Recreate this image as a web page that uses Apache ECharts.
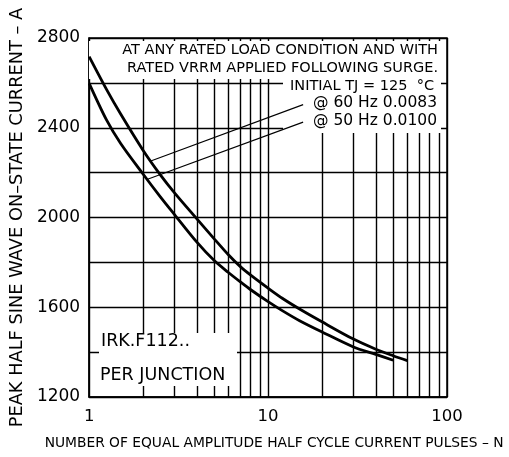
<!DOCTYPE html>
<html>
<head>
<meta charset="utf-8">
<script src="https://cdn.jsdelivr.net/npm/echarts@6/dist/echarts.min.js"></script>
<style>
  html, body { margin: 0; padding: 0; background: #fff; }
  #chart { width: 509px; height: 457px; }
</style>
</head>
<body>
<div id="chart"></div>
<script>
// Surge current vs. number of half-cycle pulses
const pulses60 = [1, 1.25, 1.5, 2, 2.5, 3, 4, 5, 6, 7, 8, 10, 12, 15, 20, 30, 40, 50, 60];
const current60 = [2717, 2571, 2461, 2300, 2190, 2110, 1994, 1905, 1834, 1781, 1743, 1685, 1640, 1592, 1535, 1458, 1413, 1384, 1362];
const pulses50 = [1, 1.25, 1.5, 2, 2.5, 3, 4, 5, 6, 7, 8, 10, 12, 15, 20, 30, 40, 50];
const current50 = [2598, 2435, 2330, 2194, 2092, 2013, 1890, 1808, 1755, 1713, 1678, 1625, 1585, 1540, 1490, 1423, 1390, 1364];

// decade sub-divisions of the log axis
const minorGridX = [2, 3, 4, 5, 6, 7, 8, 9, 20, 30, 40, 50, 60, 70, 80, 90];
const yTickLabels = [1200, 1600, 2000, 2400, 2800];

// leader lines from the notes to the curves
const leader60 = [[15.7, 2503], [2.21, 2252]];
const leader50 = [[15.7, 2425], [2.12, 2170]];

const noteLines = [
  'AT ANY RATED LOAD CONDITION AND WITH',
  'RATED VRRM APPLIED FOLLOWING SURGE.',
  'INITIAL TJ = 125  °C',
  '@ 60 Hz 0.0083',
  '@ 50 Hz 0.0100'
];
const partLines = ['IRK.F112..', 'PER JUNCTION'];

const FONT = '"DejaVu Sans", "Liberation Sans", sans-serif';
const INK = '#000';

const zip = (xs, ys) => xs.map((x, i) => [x, ys[i]]);

const chart = echarts.init(document.getElementById('chart'), null, { renderer: 'canvas' });

const textEl = (txt, x, y, size, align) => ({
  type: 'text', z: 10, x: x, y: y,
  style: { text: txt, fill: INK, font: size + 'px ' + FONT, textAlign: align || 'right', textVerticalAlign: 'middle' }
});
// white panels that sit behind the notes and hide the grid there
const whiteBox = (x, y, w, h) => ({
  type: 'rect', z: 3, shape: { x: x, y: y, width: w, height: h },
  style: { fill: '#fff' }, silent: true
});

chart.setOption({
  animation: false,
  backgroundColor: '#fff',
  grid: { left: 86, right: 62, top: 38, bottom: 60, show: true, borderColor: INK, borderWidth: 1.5, backgroundColor: '#fff' },
  xAxis: {
    type: 'log', logBase: 10, min: 1, max: 100,
    name: 'NUMBER OF EQUAL AMPLITUDE HALF CYCLE CURRENT PULSES – N',
    nameLocation: 'middle', nameGap: 39,
    nameTextStyle: { fontFamily: FONT, fontSize: 13.8, color: INK, padding: [0, 0, 0, 12] },
    axisLine: { show: true, lineStyle: { color: INK, width: 1.5 } },
    axisTick: { show: false },
    axisLabel: { fontFamily: FONT, fontSize: 16.5, color: INK, margin: 11 },
    splitLine: { show: true, lineStyle: { color: INK, width: 1.4 } }
  },
  yAxis: {
    type: 'value', min: 1200, max: 2800, interval: 200,
    name: 'PEAK HALF SINE WAVE ON–STATE CURRENT – A',
    nameLocation: 'middle', nameGap: 60,
    nameTextStyle: { fontFamily: FONT, fontSize: 17.8, color: INK },
    axisLine: { show: true, lineStyle: { color: INK, width: 1.5 } },
    axisTick: { show: false },
    axisLabel: {
      fontFamily: FONT, fontSize: 17, color: INK, margin: 9,
      formatter: v => (yTickLabels.includes(v) ? String(v) : '')
    },
    splitLine: { show: true, lineStyle: { color: INK, width: 1.4 } }
  },
  graphic: [
    whiteBox(89, 41, 352, 38),
    whiteBox(283, 79, 158, 54),
    whiteBox(99, 333, 138, 53),
    textEl(noteLines[0], 438, 50, 14.5),
    textEl(noteLines[1], 438, 68, 14.5),
    textEl(noteLines[2], 434, 86, 14.5),
    textEl(noteLines[3], 437, 103, 15.5),
    textEl(noteLines[4], 437, 121, 15.5),
    textEl(partLines[0], 101, 341, 17.5, 'left'),
    textEl(partLines[1], 100, 375, 17.5, 'left')
  ],
  series: [
    {
      name: 'grid', type: 'line', z: 1, data: [], silent: true,
      markLine: {
        z: 1, silent: true, symbol: 'none', animation: false,
        label: { show: false },
        lineStyle: { color: INK, width: 1.4, type: 'solid' },
        data: minorGridX.map(v => ({ xAxis: v }))
      }
    },
    {
      name: '60 Hz', type: 'line', z: 5, data: zip(pulses60, current60),
      smooth: 0.3, showSymbol: false, lineStyle: { color: INK, width: 2.8 }
    },
    {
      name: '50 Hz', type: 'line', z: 5, data: zip(pulses50, current50),
      smooth: 0.3, showSymbol: false, lineStyle: { color: INK, width: 2.8 }
    },
    {
      name: 'leader 60', type: 'line', z: 6, data: leader60,
      showSymbol: false, lineStyle: { color: INK, width: 1.1 }
    },
    {
      name: 'leader 50', type: 'line', z: 6, data: leader50,
      showSymbol: false, lineStyle: { color: INK, width: 1.1 }
    }
  ]
});
</script>
</body>
</html>
